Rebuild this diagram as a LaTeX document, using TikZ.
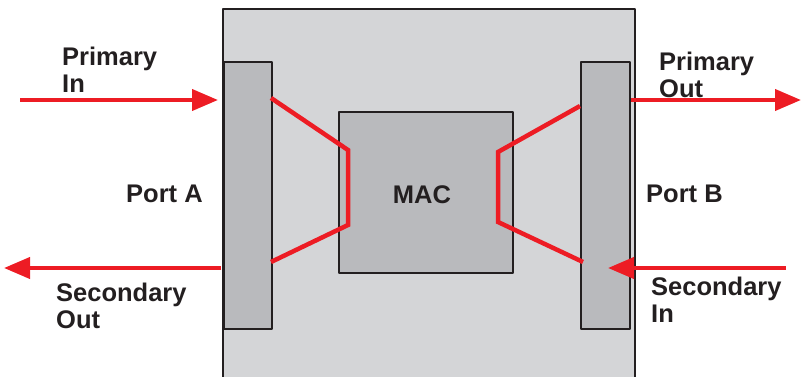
\documentclass[tikz,border=0pt]{standalone}
\usepackage{fontspec}
\setmainfont{Liberation Sans}
\usetikzlibrary{arrows.meta, positioning}

\definecolor{boardgray}{HTML}{D4D5D7}
\definecolor{unitgray}{HTML}{B9BABD}
\definecolor{ringred}{HTML}{ED1C24}
\definecolor{inkdark}{HTML}{231F20}

\tikzset{
  unit/.style={draw=inkdark, fill=unitgray, line width=2pt, inner sep=0pt, anchor=north west},
  lbl/.style={text=inkdark, inner sep=0pt, align=left, font=\fontsize{25.5}{27}\selectfont\bfseries},
  ring/.style={draw=ringred, line width=4.5pt, line join=miter},
  flow/.style={draw=ringred, line width=4pt, -{Triangle[length=26pt,width=21pt]}}
}

\begin{document}
\begin{tikzpicture}[x=1pt, y=-1pt, line join=round]
  \useasboundingbox (0,0) rectangle (801,377);

  % board and its units
  \node[unit, fill=boardgray, minimum width=412pt, minimum height=372pt] (board) at (222,8) {};
  \node[unit, minimum width=48pt, minimum height=267pt] (porta) at (223,61) {};
  \node[unit, minimum width=49pt, minimum height=267pt] (portb) at (580,61) {};
  \node[unit, minimum width=174pt, minimum height=161pt] (mac) at (338,111) {};

  % ring through the MAC
  \coordinate (abendtop) at (348,150);
  \coordinate (abendbot) at (348,225);
  \coordinate (bbendtop) at (498,152);
  \coordinate (bbendbot) at (498,222);
  \draw[ring] ([xshift=-2pt]porta.east |- 0,98) -- (abendtop) -- (abendbot) -- ([xshift=-2pt]porta.east |- 0,262);
  \draw[ring] (portb.west |- 0,106) -- (bbendtop) -- (bbendbot) -- ([xshift=3pt]portb.west |- 0,262);

  % outside flows
  \coordinate (pin)  at (20,100);
  \coordinate (sout) at (4,268);
  \coordinate (pout) at (801,100);
  \coordinate (sin)  at (786,268);
  \draw[flow] (pin) -- ([xshift=-5pt]porta.west |- pin);
  \draw[flow] ([xshift=-2pt]porta.west |- sout) -- (sout);
  \draw[flow] (portb.east |- pout) -- (pout);
  \draw[flow] (sin) -- ([xshift=28pt]portb.west |- sin);

  % texts
  \node[lbl, anchor=north west] (pintxt)  at (62,47)  {Primary\\In};
  \node[lbl, anchor=north west] (souttxt) at (56,283) {Secondary\\Out};
  \node[lbl, anchor=north west] (pouttxt) at (659,52) {Primary\\Out};
  \node[lbl, anchor=north west] (sintxt)  at (651,277) {Secondary\\In};
  \node[lbl, anchor=base west] (porttxta) at (126,203) {Port A};
  \node[lbl, anchor=base west] (porttxtb) at (646,203) {Port B};
  \node[lbl, anchor=base] (mactxt) at (422,204) {MAC};
\end{tikzpicture}
\end{document}
